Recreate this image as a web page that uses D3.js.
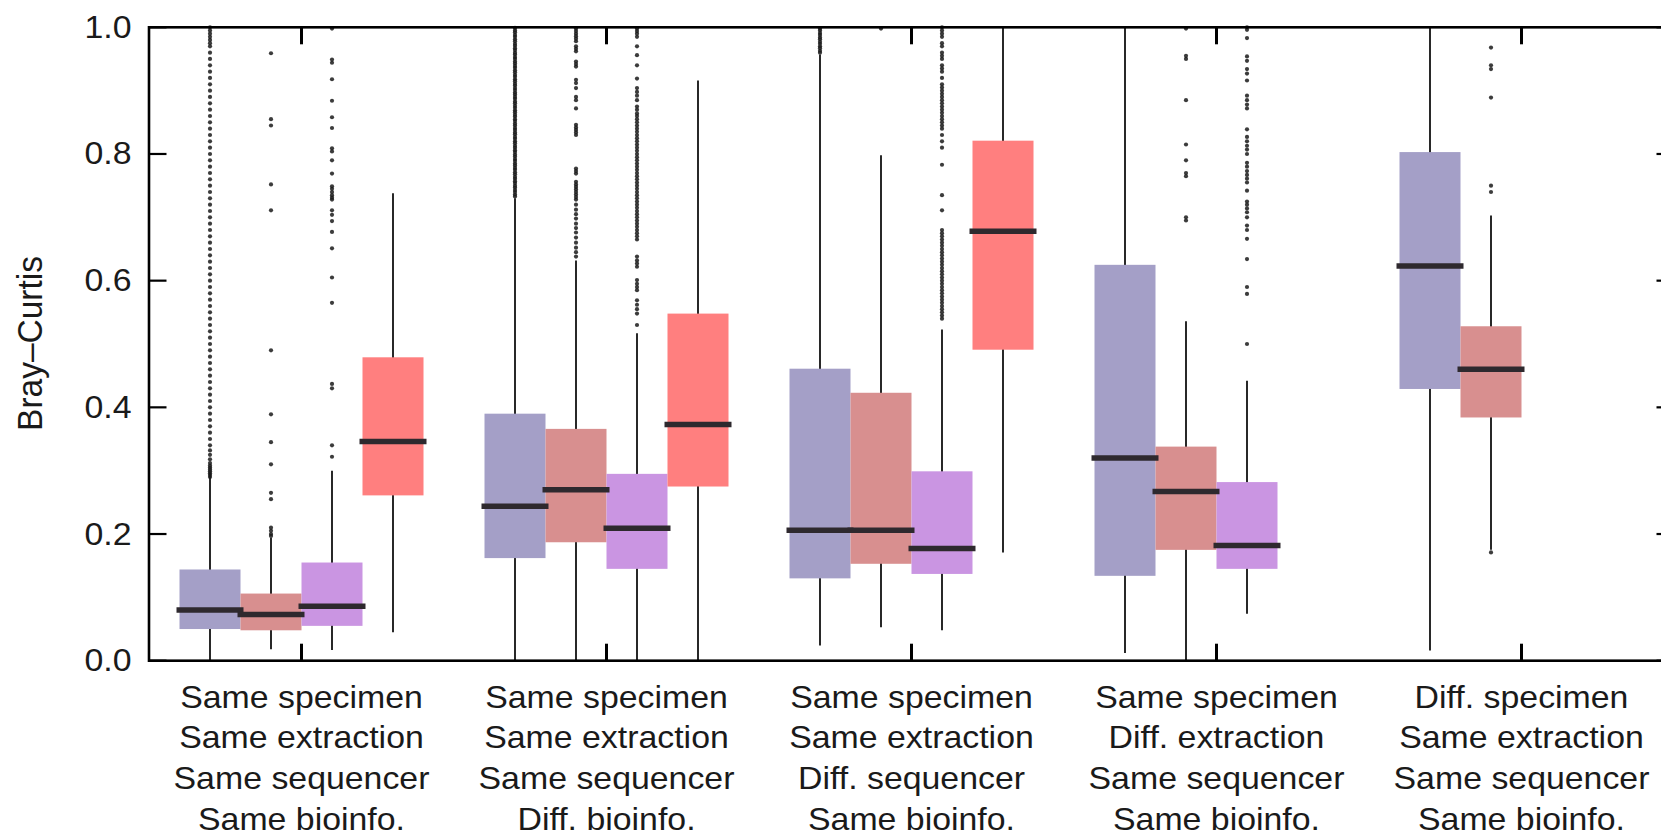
<!DOCTYPE html>
<html>
<head>
<meta charset="utf-8">
<script src="https://cdn.jsdelivr.net/npm/d3@7"></script>
<style>
  html, body { margin: 0; padding: 0; background: #fff; }
  svg { display: block; }
  text { font-family: "Liberation Sans", Arial, Helvetica, sans-serif; fill: #1a1a1a; }
</style>
</head>
<body>
<svg id="chart" width="1661" height="836"></svg>
<script>
// ---------------- DATA ----------------
const categories = [
  ["Same specimen", "Same extraction", "Same sequencer", "Same bioinfo."],
  ["Same specimen", "Same extraction", "Same sequencer", "Diff. bioinfo."],
  ["Same specimen", "Same extraction", "Diff. sequencer", "Same bioinfo."],
  ["Same specimen", "Diff. extraction", "Same sequencer", "Same bioinfo."],
  ["Diff. specimen", "Same extraction", "Same sequencer", "Same bioinfo."]
];
const seriesColors = ["#a49fc7", "#d88f8f", "#ca95e2", "#ff7f7f"];

// one entry per box
const boxGroup  = [0, 0, 0, 0, 1, 1, 1, 1, 2, 2, 2, 2, 3, 3, 3, 4, 4];
const boxSeries = [0, 1, 2, 3, 0, 1, 2, 3, 0, 1, 2, 3, 0, 1, 2, 0, 1];
const whiskerLow  = [0.000, 0.018, 0.017, 0.045, 0.000, 0.000, 0.000, 0.000, 0.024, 0.053, 0.048, 0.171, 0.012, 0.000, 0.074, 0.016, 0.175];
const q1          = [0.050, 0.048, 0.055, 0.261, 0.162, 0.187, 0.145, 0.275, 0.130, 0.153, 0.137, 0.491, 0.134, 0.175, 0.145, 0.429, 0.384];
const median      = [0.080, 0.073, 0.086, 0.346, 0.244, 0.270, 0.209, 0.373, 0.206, 0.206, 0.177, 0.678, 0.320, 0.267, 0.182, 0.623, 0.460];
const q3          = [0.144, 0.106, 0.155, 0.479, 0.390, 0.366, 0.295, 0.548, 0.461, 0.423, 0.299, 0.821, 0.625, 0.338, 0.282, 0.803, 0.528];
const whiskerHigh = [0.297, 0.194, 0.300, 0.738, 0.730, 0.632, 0.517, 0.916, 0.957, 0.798, 0.523, 1.000, 1.000, 0.536, 0.442, 1.000, 0.703];

const outliers = [
  // G1 A
  [0.290,0.293,0.296,0.299,0.302,0.305,0.308,0.312,0.318,0.325,0.332,0.34,0.35,0.36,0.37,0.38,0.39,0.40,0.41,0.42,0.43,0.44,0.45,0.46,0.47,0.48,0.49,0.50,0.51,0.52,0.53,0.54,0.55,0.56,0.57,0.58,0.59,0.60,0.61,0.62,0.63,0.64,0.65,0.66,0.67,0.68,0.69,0.70,0.71,0.72,0.73,0.74,0.75,0.76,0.77,0.78,0.79,0.80,0.81,0.82,0.83,0.84,0.85,0.86,0.87,0.88,0.89,0.90,0.91,0.92,0.93,0.94,0.95,0.96,0.97,0.975,0.98,0.985,0.99,0.995,1.0],
  // G1 B
  [0.959,0.855,0.845,0.752,0.711,0.490,0.389,0.345,0.310,0.265,0.255,0.210,0.205,0.200,0.197],
  // G1 C
  [0.998,0.949,0.944,0.918,0.884,0.858,0.841,0.809,0.804,0.790,0.769,0.749,0.745,0.740,0.735,0.731,0.728,0.711,0.704,0.694,0.677,0.651,0.605,0.565,0.437,0.430,0.340,0.322],
  // G1 D
  [],
  // G2 A
  [0.733,0.736,0.740,0.743,0.747,0.750,0.754,0.757,0.761,0.764,0.768,0.771,0.775,0.778,0.782,0.785,0.789,0.792,0.796,0.799,0.803,0.806,0.810,0.813,0.817,0.820,0.824,0.827,0.831,0.834,0.838,0.841,0.845,0.848,0.852,0.855,0.859,0.862,0.866,0.869,0.873,0.876,0.880,0.883,0.887,0.890,0.894,0.897,0.901,0.904,0.908,0.911,0.915,0.918,0.922,0.925,0.929,0.932,0.936,0.939,0.943,0.946,0.950,0.953,0.957,0.960,0.964,0.967,0.971,0.974,0.978,0.981,0.985,0.988,0.992,0.995,0.999],
  // G2 B
  [0.998,0.994,0.990,0.986,0.982,0.978,0.970,0.966,0.962,0.946,0.942,0.938,0.917,0.912,0.904,0.890,0.885,0.872,0.846,0.842,0.838,0.834,0.830,0.777,0.773,0.769,0.756,0.752,0.748,0.744,0.740,0.736,0.732,0.728,0.720,0.712,0.705,0.698,0.690,0.683,0.676,0.668,0.660,0.652,0.645,0.638],
  // G2 C
  [0.998,0.994,0.990,0.985,0.970,0.956,0.940,0.919,0.904,0.898,0.892,0.885,0.875,0.870,0.864,0.860,0.855,0.850,0.845,0.840,0.835,0.830,0.825,0.820,0.815,0.810,0.805,0.800,0.795,0.790,0.785,0.780,0.775,0.770,0.765,0.760,0.755,0.750,0.745,0.740,0.735,0.730,0.725,0.720,0.715,0.710,0.705,0.700,0.695,0.690,0.685,0.680,0.675,0.670,0.665,0.638,0.632,0.627,0.622,0.601,0.595,0.590,0.585,0.569,0.562,0.555,0.548,0.530],
  // G2 D
  [],
  // G3 A
  [0.960,0.963,0.967,0.970,0.974,0.977,0.981,0.984,0.988,0.991,0.995,0.998],
  // G3 B
  [0.998],
  // G3 C
  [1.000,0.995,0.990,0.985,0.975,0.970,0.960,0.955,0.950,0.940,0.935,0.930,0.920,0.910,0.905,0.900,0.895,0.890,0.885,0.880,0.875,0.870,0.865,0.860,0.855,0.850,0.845,0.840,0.830,0.820,0.810,0.783,0.735,0.711,0.680,0.675,0.670,0.665,0.660,0.655,0.650,0.645,0.640,0.635,0.630,0.625,0.620,0.615,0.610,0.605,0.600,0.595,0.590,0.585,0.580,0.575,0.570,0.565,0.560,0.555,0.550,0.545,0.540],
  // G3 D
  [],
  // G4 A
  [],
  // G4 B
  [0.998,0.955,0.950,0.885,0.815,0.790,0.770,0.765,0.700,0.695],
  // G4 C
  [1.000,0.996,0.983,0.954,0.947,0.934,0.927,0.916,0.892,0.885,0.878,0.872,0.839,0.827,0.820,0.813,0.807,0.800,0.786,0.780,0.773,0.767,0.761,0.755,0.742,0.725,0.720,0.714,0.708,0.700,0.687,0.680,0.666,0.634,0.590,0.579,0.500],
  // G5 A
  [],
  // G5 B
  [0.968,0.940,0.934,0.889,0.750,0.740,0.171]
];

const yTicks = [0, 0.2, 0.4, 0.6, 0.8, 1.0];
const yTickLabels = ["0.0", "0.2", "0.4", "0.6", "0.8", "1.0"];
const yTitle = "Bray–Curtis";

// ---------------- LAYOUT ----------------
const svg = d3.select("#chart");
svg.append("rect").attr("width", 1661).attr("height", 836).attr("fill", "#fff");

const slotsPerGroup = 5;
const x = d3.scaleLinear().domain([-1, 24]).range([149, 1674]);
const y = d3.scaleLinear().domain([0, 1]).range([660.7, 27.3]);
const boxW = x(1) - x(0);
const slot = i => boxGroup[i] * slotsPerGroup + boxSeries[i];
const groupCenter = g => x(g * slotsPerGroup + 1.5);
const stretch = 1.11;

const boxes = d3.range(boxGroup.length);

// whiskers
svg.append("g").selectAll("line").data(boxes).join("line")
  .attr("x1", i => x(slot(i))).attr("x2", i => x(slot(i)))
  .attr("y1", i => y(whiskerLow[i])).attr("y2", i => y(whiskerHigh[i]))
  .attr("stroke", "#111").attr("stroke-width", 1.8);

// outliers
const pts = [];
boxes.forEach(i => outliers[i].forEach(v => pts.push({ i, v })));
svg.append("g").selectAll("circle").data(pts).join("circle")
  .attr("cx", d => x(slot(d.i))).attr("cy", d => y(d.v))
  .attr("r", 2.1).attr("fill", "#1a1a1a").attr("fill-opacity", 0.85);

// boxes
svg.append("g").selectAll("rect").data(boxes).join("rect")
  .attr("x", i => x(slot(i)) - boxW / 2)
  .attr("width", boxW)
  .attr("y", i => y(q3[i]))
  .attr("height", i => y(q1[i]) - y(q3[i]))
  .attr("fill", i => seriesColors[boxSeries[i]]);

// medians
svg.append("g").selectAll("line").data(boxes).join("line")
  .attr("x1", i => x(slot(i)) - boxW / 2 - 3)
  .attr("x2", i => x(slot(i)) + boxW / 2 + 3)
  .attr("y1", i => y(median[i])).attr("y2", i => y(median[i]))
  .attr("stroke", "#2e292e").attr("stroke-width", 5.5);

// frame
svg.append("rect")
  .attr("x", x(-1)).attr("y", y(1))
  .attr("width", x(24) - x(-1)).attr("height", y(0) - y(1))
  .attr("fill", "none").attr("stroke", "#000").attr("stroke-width", 2.6);

// y ticks (left, inward) and right (inward)
const tickG = svg.append("g").attr("stroke", "#000");
tickG.selectAll("line.l").data(yTicks).join("line").attr("class", "l")
  .attr("x1", x(-1)).attr("x2", x(-1) + 17.5)
  .attr("y1", d => y(d)).attr("y2", d => y(d)).attr("stroke-width", 2.2);
tickG.selectAll("line.r").data(yTicks).join("line").attr("class", "r")
  .attr("x1", x(24)).attr("x2", x(24) - 17.5)
  .attr("y1", d => y(d)).attr("y2", d => y(d)).attr("stroke-width", 2.2);

// group ticks (top and bottom, inward)
const groups = d3.range(categories.length);
tickG.selectAll("line.t").data(groups).join("line").attr("class", "t")
  .attr("x1", g => groupCenter(g)).attr("x2", g => groupCenter(g))
  .attr("y1", y(1)).attr("y2", y(1) + 17).attr("stroke-width", 3);
tickG.selectAll("line.b").data(groups).join("line").attr("class", "b")
  .attr("x1", g => groupCenter(g)).attr("x2", g => groupCenter(g))
  .attr("y1", y(0)).attr("y2", y(0) - 17).attr("stroke-width", 3);

// y tick labels
svg.append("g").selectAll("text").data(yTicks).join("text")
  .attr("transform", d => `translate(131.5,${y(d) + 10.5}) scale(${stretch},1)`)
  .attr("text-anchor", "end")
  .attr("font-size", 30.5)
  .text((d, k) => yTickLabels[k]);

// y title
svg.append("text")
  .attr("transform", `translate(42,343.5) scale(1.05,1) rotate(-90)`)
  .attr("text-anchor", "middle")
  .attr("font-size", 33.5)
  .text(yTitle);

// x category labels
const lab = svg.append("g");
groups.forEach(g => {
  categories[g].forEach((line, k) => {
    lab.append("text")
      .attr("transform", `translate(${groupCenter(g)},${707.5 + k * 40.8}) scale(${stretch},1)`)
      .attr("text-anchor", "middle")
      .attr("font-size", 30.5)
      .text(line);
  });
});
</script>
</body>
</html>
